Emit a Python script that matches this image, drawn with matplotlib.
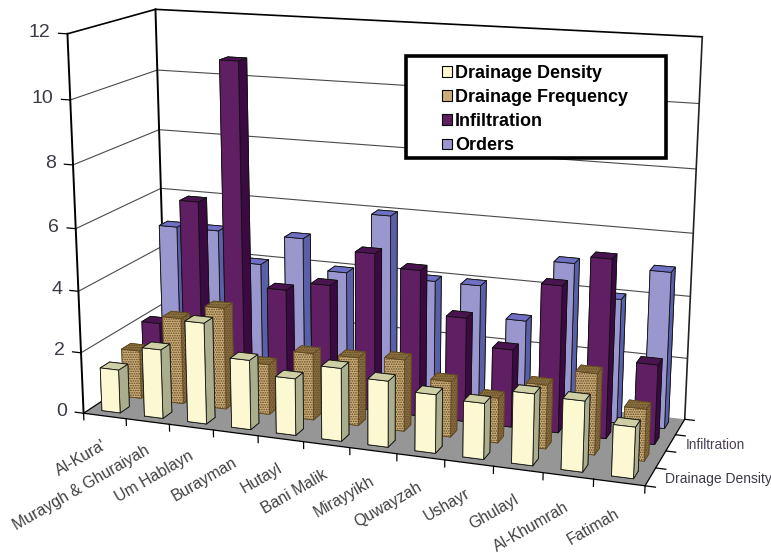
import numpy as np
import matplotlib
matplotlib.use('Agg')
import matplotlib.pyplot as plt
from matplotlib.patches import Patch, Rectangle
from mpl_toolkits.mplot3d import proj3d
from mpl_toolkits.mplot3d.art3d import Poly3DCollection

plt.rcParams['font.family'] = ['Liberation Sans', 'DejaVu Sans']
plt.rcParams['hatch.linewidth'] = 0.8

places = ["Al-Kura'", 'Murayhg & Ghuraiyah'.replace('hg', 'gh'), 'Um Hablayn', 'Burayman', 'Hutayl', 'Bani Malik',
          'Mirayyikh', 'Quwayzah', 'Ushayr', 'Ghulayl', 'Al-Khumrah', 'Fatimah']
series_names = ['Drainage Density', 'Drainage Frequency', 'Infiltration', 'Orders']
drainage_density = [1.42, 2.25, 3.27, 2.24, 1.82, 2.32, 2.09, 1.84, 1.75, 2.22, 2.18, 1.57]
drainage_frequency = [1.6, 2.84, 3.33, 1.65, 2.17, 2.2, 2.3, 1.78, 1.42, 2.01, 2.54, 1.62]
infiltration = [2.1, 6.3, 10.9, 3.67, 3.97, 5.14, 4.74, 3.36, 2.5, 4.68, 5.65, 2.52]
orders = [5, 5, 4, 5, 4, 6, 4, 4, 3, 5, 4, 5]
z_ticks = [0, 2, 4, 6, 8, 10, 12]

# face, top, side
palette = [('#FBF8D2', '#CFCFA6', '#ABAE8C'),
           ('#CDAE7A', '#8F7443', '#8A6E42'),
           ('#5F1F62', '#4A1450', '#3C0A42'),
           ('#9A97CF', '#6F70C4', '#5A60A8')]

# the chart's skewed 3D view: box corners -> pixels in the picture
box_pts = [(0, 0, 0), (0, 0, 12), (12, 0, 0), (0, 4, 0), (0, 4, 12), (12, 4, 0), (12, 4, 12)]
pix_pts = [(85, 412), (66, 34), (645, 487), (164.5, 360), (157, 9), (685, 418), (702, 37)]


def fit_camera(world, image):
    rows, rhs = [], []
    for (x, y, z), (u, v) in zip(world, image):
        rows.append([x, y, z, 1, 0, 0, 0, 0, -u * x, -u * y, -u * z])
        rows.append([0, 0, 0, 0, x, y, z, 1, -v * x, -v * y, -v * z])
        rhs += [u, v]
    p = np.linalg.lstsq(np.array(rows, float), np.array(rhs, float), rcond=None)[0]
    return np.append(p, 1).reshape(3, 4)


fig = plt.figure(figsize=(7.71, 5.53), dpi=100)
ax = fig.add_axes([0, -109 / 553, 1, 771 / 553], projection='3d')
ax.set_axis_off()
ax.set_xlim(0, 12)
ax.set_ylim(0, 4)
ax.set_zlim(0, 12)
ax.computed_zorder = False
ax.apply_aspect()

P = fit_camera(box_pts, pix_pts)
to_axes = ax.transData.inverted().get_matrix() @ np.array([[1, 0, 0], [0, -1, 553], [0, 0, 1]])
P2 = to_axes @ P
# depth row stays negative, mplot3d clips lines with depth above 0
M = np.array([P2[0], P2[1], [-1, 1.6, -0.5, -30], P2[2]])
ax.get_proj = lambda: M


def label(x, y, z, s, **kw):
    px, py, _ = proj3d.proj_transform(x, y, z, M)
    ax.text2D(px, py, s, transform=ax.transData, **kw)


# floor and wall lines
floor = [[(0, 0, 0), (12, 0, 0), (12, 4, 0), (0, 4, 0)]]
ax.add_collection3d(Poly3DCollection(floor, facecolor='#969696', edgecolor='none', zorder=1))
for z in z_ticks[1:-1]:
    ax.plot([0, 0, 12], [0, 4, 4], [z, z, z], color='#4a4a4a', lw=0.8, zorder=2)
ax.plot([0, 0, 12], [0, 4, 4], [12, 12, 12], color='k', lw=1.2, zorder=2)
ax.plot([0, 0], [0, 0], [0, 12], color='k', lw=1.4, zorder=2)
ax.plot([0, 0], [4, 4], [0, 12], color='k', lw=1.4, zorder=2)
ax.plot([12, 12], [4, 4], [0, 12], color='#222222', lw=1.2, zorder=2)
ax.plot([0, 12, 12], [0, 0, 4], [0, 0, 0], color='k', lw=0.9, zorder=2)
ax.plot([0, 0], [0, 4], [0, 0], color='k', lw=0.9, zorder=2)

# bars, back row first so the front ones cover them
values = [drainage_density, drainage_frequency, infiltration, orders]
bar_w = 0.43
order = 10
for row in [3, 2, 1, 0]:
    face, top, side = palette[row]
    for i, v in enumerate(values[row]):
        # bar3d faces: bottom, top, front, back, left, right
        cols = [side, top, face, face, side, side]
        kw = dict(edgecolor='#111111', linewidth=0.6)
        if row == 1:
            kw = dict(edgecolor='#5f4822', linewidth=0.6, hatch='.......')
        ax.bar3d(i + 0.5 - bar_w / 2, row + 0.5 - bar_w / 2, 0, bar_w, bar_w, v,
                 color=cols, shade=False, zorder=order, **kw)
        order += 1

# ticks and labels
text_col = '#3b3b48'
for z in z_ticks:
    ax.plot([0, -0.2], [0, 0], [z, z], color='k', lw=0.9, zorder=2)
    label(-0.38, 0, z, str(z), ha='right', va='center', fontsize=14, color=text_col)
for i in range(len(places) + 1):
    ax.plot([i, i], [0, 0], [0, -0.22], color='k', lw=0.9, zorder=2)
for i, name in enumerate(places):
    label(i + 0.5, 0, -0.92, name, ha='right', va='center', rotation=30, rotation_mode='anchor',
          fontsize=11.4, color='#404040')
for r in range(5):
    ax.plot([12, 12.2], [r, r], [0, 0], color='k', lw=0.9, zorder=2)
label(12.28, 0.5, 0, series_names[0], ha='left', va='center', fontsize=10, color=text_col)
label(12.3, 2.5, 0, series_names[2], ha='left', va='center', fontsize=9.8, color='#4a3f55')

# legend box
fig.add_artist(Rectangle((406 / 771, 1 - 158 / 553), 260 / 771, 102 / 553, transform=fig.transFigure,
                         facecolor='white', edgecolor='k', linewidth=2.6, zorder=50))
handles = [Patch(facecolor=palette[k][0], edgecolor='k', linewidth=0.8) for k in range(4)]
leg = fig.legend(handles, series_names, loc='upper left', bbox_to_anchor=(426 / 771, 1 - 48.5 / 553),
                 frameon=False, prop={'weight': 'bold', 'size': 13}, handlelength=0.55, handleheight=0.55,
                 handletextpad=0.17, labelspacing=0.4, borderpad=0.4)
leg.set_zorder(60)

fig.savefig('out.png', dpi=100)
